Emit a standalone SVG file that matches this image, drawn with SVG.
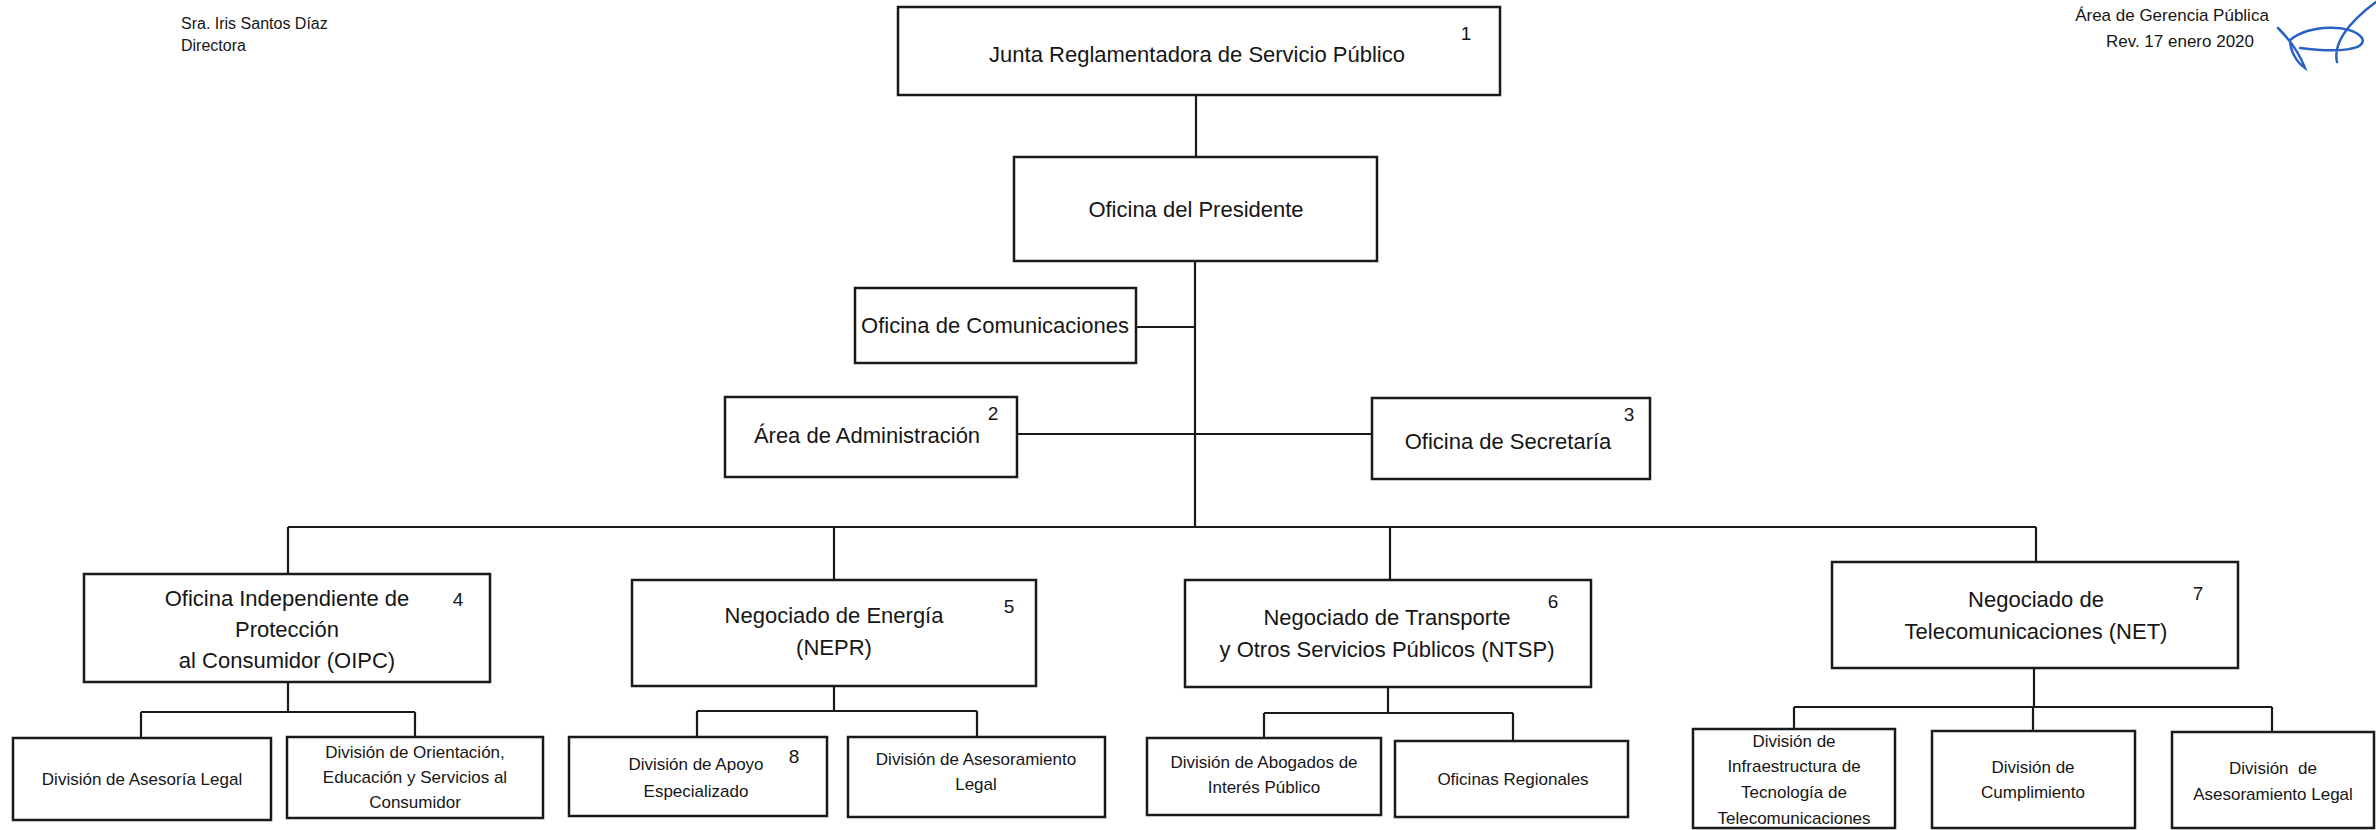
<svg xmlns="http://www.w3.org/2000/svg" width="2376" height="830" viewBox="0 0 2376 830">
<style>
.box{fill:#fff;stroke:#1a1a1a;stroke-width:2.5}
.ln{fill:none;stroke:#1a1a1a;stroke-width:2.2}
text{font-family:"Liberation Sans",Arial,sans-serif;fill:#161616}
.t1{font-size:22px;text-anchor:middle}
.t3{font-size:17px;text-anchor:middle}
.num{font-size:19px;text-anchor:middle}
.hd{font-size:16px}
.hr{font-size:17px;text-anchor:middle}
</style>
<rect width="2376" height="830" fill="#fff"/>
<g id="header">
<text class="hd" x="181" y="29">Sra. Iris Santos Díaz</text>
<text class="hd" x="181" y="51">Directora</text>
<text class="hr" x="2172" y="21">Área de Gerencia Pública</text>
<text class="hr" x="2180" y="47">Rev. 17 enero 2020</text>
<path d="M2278,28 C2290,40 2300,55 2305,68 C2296,62 2290,50 2290,40 C2310,24 2352,24 2362,38 C2368,50 2338,53 2300,48 M2337,62 C2333,45 2346,24 2376,2" fill="none" stroke="#2a62c4" stroke-width="2.5" stroke-linecap="round"/>
</g>
<g id="connectors">
<path class="ln" d="M1196,95 V157"/>
<path class="ln" d="M1195,261 V527"/>
<path class="ln" d="M1136,327 H1195"/>
<path class="ln" d="M1017,434 H1372"/>
<path class="ln" d="M288,527 H2036"/>
<path class="ln" d="M288,527 V574 M834,527 V580 M1390,527 V580 M2036,527 V562"/>
<path class="ln" d="M288,682 V712 M141,712 H415 M141,712 V738 M415,712 V737"/>
<path class="ln" d="M834,686 V711 M697,711 H977 M697,711 V737 M977,711 V737"/>
<path class="ln" d="M1388,687 V713 M1264,713 H1513 M1264,713 V738 M1513,713 V741"/>
<path class="ln" d="M2034,668 V707 M1794,707 H2272 M1794,707 V729 M2033,707 V731 M2272,707 V732"/>
</g>
<g id="n1">
<rect class="box" x="898" y="7" width="602" height="88"/>
<text class="t1" x="1197" y="62">Junta Reglamentadora de Servicio Público</text>
<text class="num" x="1466" y="40">1</text>
</g>
<g id="n_presidente">
<rect class="box" x="1014" y="157" width="363" height="104"/>
<text class="t1" x="1196" y="217">Oficina del Presidente</text>
</g>
<g id="n_comunicaciones">
<rect class="box" x="855" y="288" width="281" height="75"/>
<text class="t1" x="995" y="333">Oficina de Comunicaciones</text>
</g>
<g id="n2">
<rect class="box" x="725" y="397" width="292" height="80"/>
<text class="t1" x="867" y="443">Área de Administración</text>
<text class="num" x="993" y="420">2</text>
</g>
<g id="n3">
<rect class="box" x="1372" y="398" width="278" height="81"/>
<text class="t1" x="1508" y="449">Oficina de Secretaría</text>
<text class="num" x="1629" y="421">3</text>
</g>
<g id="n4">
<rect class="box" x="84" y="574" width="406" height="108"/>
<text class="t1" x="287" y="606">Oficina Independiente de</text>
<text class="t1" x="287" y="637">Protección</text>
<text class="t1" x="287" y="668">al Consumidor (OIPC)</text>
<text class="num" x="458" y="606">4</text>
</g>
<g id="n5">
<rect class="box" x="632" y="580" width="404" height="106"/>
<text class="t1" x="834" y="623">Negociado de Energía</text>
<text class="t1" x="834" y="655">(NEPR)</text>
<text class="num" x="1009" y="613">5</text>
</g>
<g id="n6">
<rect class="box" x="1185" y="580" width="406" height="107"/>
<text class="t1" x="1387" y="625">Negociado de Transporte</text>
<text class="t1" x="1387" y="657">y Otros Servicios Públicos (NTSP)</text>
<text class="num" x="1553" y="608">6</text>
</g>
<g id="n7">
<rect class="box" x="1832" y="562" width="406" height="106"/>
<text class="t1" x="2036" y="607">Negociado de</text>
<text class="t1" x="2036" y="639">Telecomunicaciones (NET)</text>
<text class="num" x="2198" y="600">7</text>
</g>
<g id="n4a">
<rect class="box" x="13" y="738" width="258" height="82"/>
<text class="t3" x="142" y="785">División de Asesoría Legal</text>
</g>
<g id="n4b">
<rect class="box" x="287" y="737" width="256" height="81"/>
<text class="t3" x="415" y="758">División de Orientación,</text>
<text class="t3" x="415" y="783">Educación y Servicios al</text>
<text class="t3" x="415" y="808">Consumidor</text>
</g>
<g id="n8">
<rect class="box" x="569" y="737" width="258" height="79"/>
<text class="t3" x="696" y="770">División de Apoyo</text>
<text class="t3" x="696" y="797">Especializado</text>
<text class="num" x="794" y="763">8</text>
</g>
<g id="n5b">
<rect class="box" x="848" y="737" width="257" height="80"/>
<text class="t3" x="976" y="765">División de Asesoramiento</text>
<text class="t3" x="976" y="790">Legal</text>
</g>
<g id="n6a">
<rect class="box" x="1147" y="738" width="234" height="77"/>
<text class="t3" x="1264" y="768">División de Abogados de</text>
<text class="t3" x="1264" y="793">Interés Público</text>
</g>
<g id="n6b">
<rect class="box" x="1395" y="741" width="233" height="76"/>
<text class="t3" x="1513" y="785">Oficinas Regionales</text>
</g>
<g id="n7a">
<rect class="box" x="1693" y="729" width="202" height="99"/>
<text class="t3" x="1794" y="747">División de</text>
<text class="t3" x="1794" y="772">Infraestructura de</text>
<text class="t3" x="1794" y="798">Tecnología de</text>
<text class="t3" x="1794" y="824">Telecomunicaciones</text>
</g>
<g id="n7b">
<rect class="box" x="1932" y="731" width="203" height="97"/>
<text class="t3" x="2033" y="773">División de</text>
<text class="t3" x="2033" y="798">Cumplimiento</text>
</g>
<g id="n7c">
<rect class="box" x="2172" y="732" width="202" height="96"/>
<text class="t3" x="2273" y="774" xml:space="preserve">División  de</text>
<text class="t3" x="2273" y="800">Asesoramiento Legal</text>
</g>
</svg>
